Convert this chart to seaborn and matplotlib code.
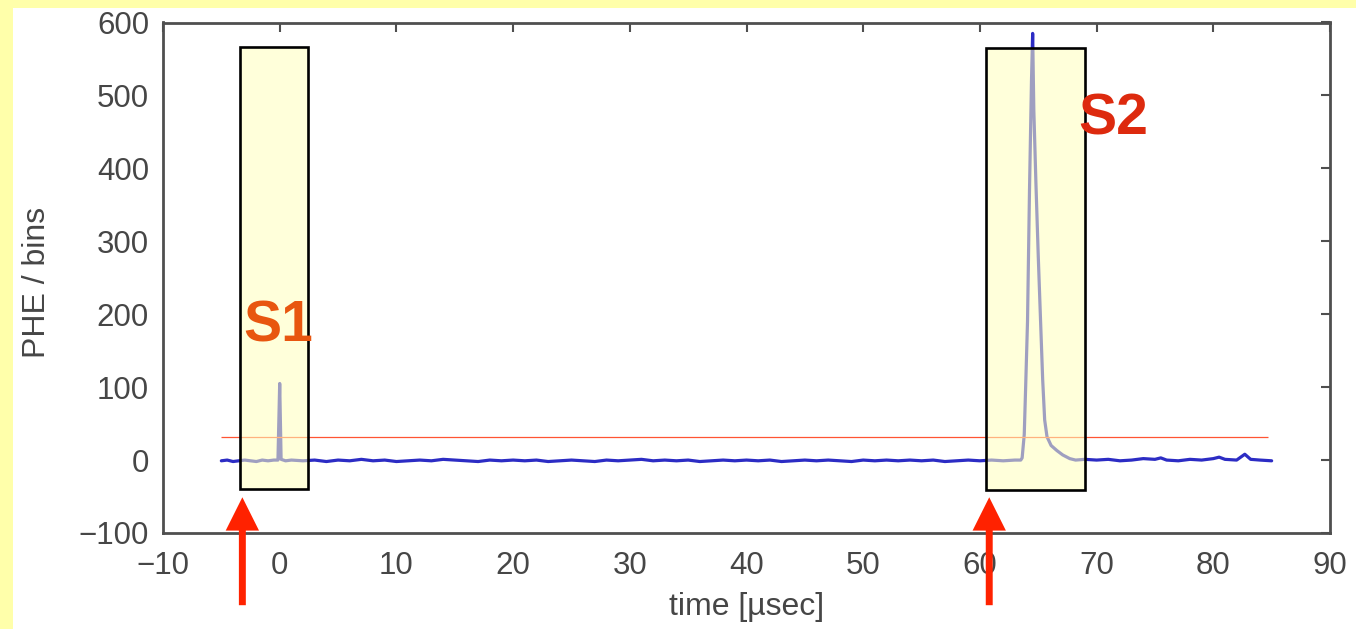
import matplotlib
matplotlib.use("Agg")
import matplotlib.pyplot as plt
from matplotlib.patches import Rectangle
import seaborn as sns

# Waveform samples: drift time (µs) and photo-electrons per bin
time_us = [-5.0, -4.5, -4.0, -3.5, -3.0, -2.5, -2.0, -1.5, -1.0, -0.5, -0.15,
           0.0, 0.12, 0.5, 1.0, 2.0, 3.0, 4.0, 5.0, 6.0, 7.0, 8.0, 9.0, 10.0,
           11.0, 12.0, 13.0, 14.0, 15.0, 16.0, 17.0, 18.0, 19.0, 20.0, 21.0,
           22.0, 23.0, 24.0, 25.0, 26.0, 27.0, 28.0, 29.0, 30.0, 31.0, 32.0,
           33.0, 34.0, 35.0, 36.0, 37.0, 38.0, 39.0, 40.0, 41.0, 42.0, 43.0,
           44.0, 45.0, 46.0, 47.0, 48.0, 49.0, 50.0, 51.0, 52.0, 53.0, 54.0,
           55.0, 56.0, 57.0, 58.0, 59.0, 60.0, 61.0, 62.0, 63.0, 63.5, 63.62,
           63.8, 63.92, 64.08, 64.25, 64.42, 64.52, 64.62, 64.8, 65.0, 65.2,
           65.38, 65.55, 65.75, 66.1, 66.6, 67.1, 67.7, 68.2, 69.0, 70.0, 71.0,
           72.0, 73.0, 74.0, 75.0, 75.5, 76.0, 77.0, 78.0, 79.0, 80.0, 80.5,
           81.0, 82.0, 82.7, 83.2, 84.0, 85.0]
phe = [-1, 0, -2, -1, 0, -1, -2, 0, -1, 0, 0,
       105, 1, -1, 0, -1, 0, -2, 0, -1, 1, -1, 0, -2,
       -1, 0, -1, 1, 0, -1, -2, 0, -1, 0, -1,
       0, -2, -1, 0, -1, -2, 0, -1, 0, 1, -1,
       0, -1, 0, -2, -1, 0, -1, 0, -1, 0, -2,
       -1, 0, -1, 0, -1, -2, 0, -1, 0, -1, 0,
       -1, 0, -2, -1, 0, -1, 0, -1, 0, 0, 3,
       35, 100, 190, 370, 520, 585, 480, 380, 280, 190,
       110, 55, 32, 20, 13, 7, 2, 0, 1, 0, 1,
       -1, 0, 2, 1, 3, 0, -1, 1, 0, 2, 4,
       1, 0, 8, 1, 0, -1]

# Threshold line and selection windows
threshold = 32
threshold_span = (-5.0, 84.7)
windows = [("S1", -3.4, 2.43, -40, 567), ("S2", 60.5, 69.0, -41, 565)]
labels = [("S1", -3.15, 162, "#e8560f"), ("S2", 68.4, 446, "#dd2a0e")]
arrow_x = [-3.2, 60.8]

x_ticks = list(range(-10, 91, 10))
y_ticks = list(range(-100, 601, 100))

sns.set_style("white")
plt.rcParams["font.family"] = ["Liberation Sans", "DejaVu Sans"]

fig = plt.figure(figsize=(13.56, 6.29), dpi=100, facecolor="#ffffaa")
# white panel inside the yellow frame
fig.patches.append(Rectangle((13 / 1356, 0), 1, 1 - 8 / 629, transform=fig.transFigure,
                             facecolor="white", edgecolor="none", zorder=-5))
ax = fig.add_axes([163 / 1356, 1 - 533 / 629, (1330 - 163) / 1356, (533 - 22.5) / 629])
ax.set_zorder(2)
ax.set_facecolor("white")

sns.lineplot(x=time_us, y=phe, color="#2c2cc4", linewidth=2.3, ax=ax,
             estimator=None, sort=False, zorder=2)
ax.hlines(threshold, *threshold_span, color="#ff5533", linewidth=0.9, zorder=3)

for name, x0, x1, y0, y1 in windows:
    ax.add_patch(Rectangle((x0, y0), x1 - x0, y1 - y0, facecolor=(1, 1, 0.74, 0.55),
                           edgecolor="none", zorder=4))
    ax.add_patch(Rectangle((x0, y0), x1 - x0, y1 - y0, facecolor="none",
                           edgecolor="black", linewidth=1.9, zorder=5))

for text, tx, ty, col in labels:
    ax.text(tx, ty, text, color=col, fontsize=41, fontweight="bold",
            ha="left", va="baseline", zorder=6)

for ax_x in arrow_x:
    ax.annotate("", xy=(ax_x, -51), xytext=(ax_x, -199), xycoords="data",
                annotation_clip=False,
                arrowprops=dict(facecolor="#ff2200", edgecolor="none", width=5,
                                headwidth=24, headlength=24, shrink=0))

ax.set_xlim(-10, 90)
ax.set_ylim(-100, 600)
ax.set_xticks(x_ticks)
ax.set_yticks(y_ticks)

grey = "#464646"
for s in ax.spines.values():
    s.set_visible(True)
    s.set_color("#4f4f4f")
    s.set_linewidth(2.0)
ax.tick_params(direction="in", length=6.5, width=1.5, color="#4f4f4f",
               top=True, right=True, labelcolor=grey, labelsize=22.5)
ax.tick_params(axis="x", pad=13)
ax.tick_params(axis="y", pad=10)

ax.set_xlabel("time [µsec]", fontsize=23, color=grey, va="center")
ax.xaxis.set_label_coords(0.5, -0.145)
ax.set_ylabel("PHE / bins", fontsize=23, color=grey, va="center")
ax.yaxis.set_label_coords(-0.108, 0.49)

fig.savefig("out.png", dpi=100, facecolor=fig.get_facecolor())
